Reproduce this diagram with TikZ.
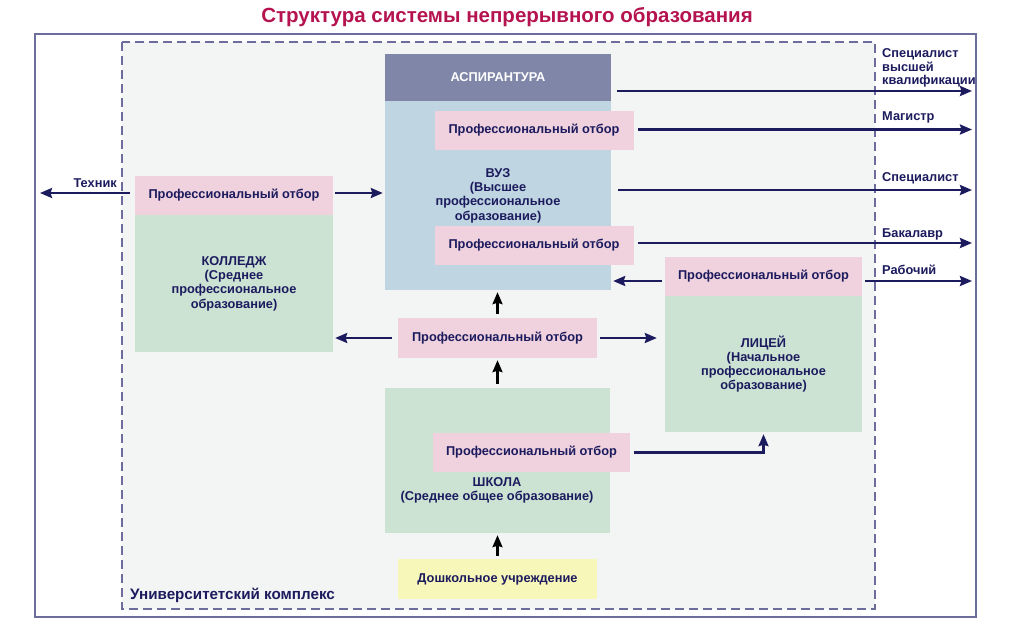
\documentclass[tikz,border=0pt]{standalone}
\usepackage{fontspec}
\setmainfont{Liberation Sans}
\usepackage{xcolor}
\usepackage{tikz}
\usetikzlibrary{calc,arrows.meta}
\definecolor{ink}{HTML}{1C1B5E}
\definecolor{frame}{HTML}{6D6D9D}
\definecolor{zonebg}{HTML}{F3F5F4}
\definecolor{titlec}{HTML}{B5134F}
\definecolor{aspbg}{HTML}{8086A8}
\definecolor{vuzbg}{HTML}{BFD6E2}
\definecolor{greenbg}{HTML}{CCE3D4}
\definecolor{pinkbg}{HTML}{F0D1DE}
\definecolor{prebg}{HTML}{F7F7B9}
\tikzset{
  outer/.style={draw=frame, line width=1.6pt, fill=white},
  zone/.style={draw=frame, line width=1.3pt, dash pattern=on 9pt off 5pt, fill=zonebg},
  blk/.style={inner sep=0pt, align=center, text=ink, font=\bfseries\fontsize{12.8}{14.3}\selectfont},
  selbox/.style={blk, fill=pinkbg, minimum width=199pt, minimum height=39pt},
  greenbox/.style={blk, fill=greenbg},
  arr/.style={draw=ink, line width=2.3pt, -{Stealth[length=12pt,width=10pt,inset=1.5pt]}},
  arrk/.style={arr, draw=black},
  lab/.style={inner sep=0pt, align=left, text=ink, font=\bfseries\fontsize{12.8}{13.5}\selectfont},
}
\begin{document}
\begin{tikzpicture}[x=1pt,y=-1pt]
  \useasboundingbox (0,0) rectangle (1014,625);
  % frames
  \draw[outer] (35,34) rectangle (976,617);
  \draw[zone] (122,42) rectangle (875,609);
  \node[text=titlec, font=\bfseries\fontsize{20.5}{24}\selectfont] (title) at (507,17) {Структура системы непрерывного образования};
  \node[lab, anchor=west, font=\bfseries\fontsize{15.2}{17}\selectfont] (unik) at (130,595) {Университетский комплекс};

  % VUZ
  \node[blk, fill=aspbg, text=white, minimum width=226pt, minimum height=47pt] (asp) at (498,77.5) {АСПИРАНТУРА};
  \node[blk, fill=vuzbg, minimum width=226pt, minimum height=189pt] (vuz) at (498,195.5) {ВУЗ\\(Высшее\\профессиональное\\образование)};
  \node[selbox] (po1) at (534,130) {Профессиональный отбор};
  \node[selbox] (po2) at (534,245.5) {Профессиональный отбор};

  % college
  \node[selbox, minimum width=198pt] (colpo) at (234,195.5) {Профессиональный отбор};
  \node[greenbox, minimum width=198pt, minimum height=137pt] (col) at (234,283.5) {КОЛЛЕДЖ\\(Среднее\\профессиональное\\образование)};

  % lyceum
  \node[selbox, minimum width=197pt] (lycpo) at (763.5,276.5) {Профессиональный отбор};
  \node[greenbox, minimum width=197pt, minimum height=136pt] (lyc) at (763.5,364) {ЛИЦЕЙ\\(Начальное\\профессиональное\\образование)};

  % middle, school, preschool
  \node[selbox, minimum height=40pt] (midpo) at (497.5,338) {Профессиональный отбор};
  \node[greenbox, minimum width=225pt, minimum height=145pt] (school) at (497.5,460.5) {};
  \node[selbox, minimum width=197pt] (schpo) at (531.5,452.5) {Профессиональный отбор};
  \node[blk] (schtxt) at (497,490) {ШКОЛА\\(Среднее общее образование)};
  \node[blk, fill=prebg, minimum width=199pt, minimum height=40pt] (pre) at (497.5,579) {Дошкольное учреждение};

  % free ends
  \coordinate (tech) at (40,193);
  \coordinate (sp1) at (972,91);
  \coordinate (mag) at (972,129.5);
  \coordinate (spec) at (972,190);
  \coordinate (bak) at (972,243);
  \coordinate (rab) at (972,281);

  % output labels
  \node[lab, anchor=east] (techl) at (117,183) {Техник};
  \node[lab, anchor=west] (sp1l) at (882,68) {Специалист\\высшей\\квалификации};
  \node[lab, anchor=west] (magl) at (882,117) {Магистр};
  \node[lab, anchor=west] (specl) at (882,178) {Специалист};
  \node[lab, anchor=west] (bakl) at (882,234) {Бакалавр};
  \node[lab, anchor=west] (rabl) at (882,270) {Рабочий};

  % arrows
  \draw[arr, shorten <=5pt] (colpo.west |- tech) -- (tech);
  \draw[arr, shorten <=2pt, shorten >=2pt] (colpo.east |- tech) -- (vuz.west |- tech);
  \draw[arr, shorten <=6pt] (asp.east |- sp1) -- (sp1);
  \draw[arr, shorten <=4pt] (po1.east |- mag) -- (mag);
  \draw[arr, shorten <=7pt] (vuz.east |- spec) -- (spec);
  \draw[arr, shorten <=4pt] (po2.east |- bak) -- (bak);
  \draw[arr, shorten <=3pt] (lycpo.east |- rab) -- (rab);
  \draw[arr, shorten <=3pt, shorten >=2pt] (lycpo.west |- rab) -- (vuz.east |- rab);
  \draw[arr, shorten <=6pt, shorten >=2pt] (midpo.west) -- (midpo.west -| col.east);
  \draw[arr, shorten <=3pt, shorten >=8pt] (midpo.east) -- (midpo.east -| lyc.west);
  \draw[arrk, shorten <=4pt, shorten >=2pt] (midpo.north) -- (midpo.north |- vuz.south);
  \draw[arrk, shorten <=4pt, shorten >=2pt] (school.north) -- (midpo.south);
  \draw[arrk, shorten <=3pt, shorten >=2pt] (pre.north) -- (school.south);
  \draw[arr, shorten <=4pt, shorten >=2pt] (schpo.east) -| (lyc.south);
\end{tikzpicture}
\end{document}
